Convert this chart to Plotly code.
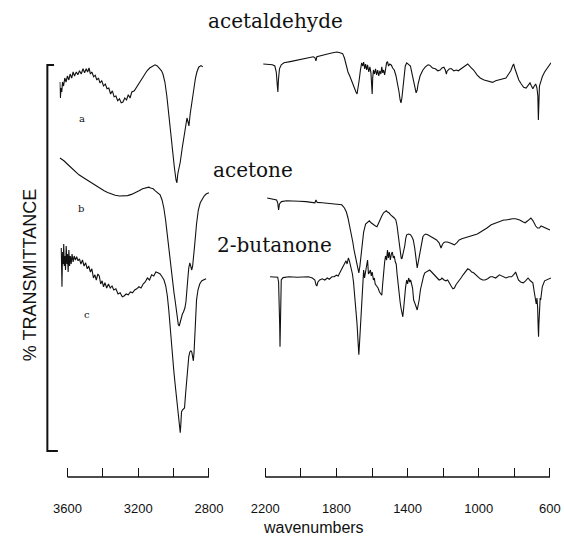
import plotly.graph_objects as go

W, H = 564, 538

# ---------------- spectra: wavenumber (cm-1) and offset transmittance ----------------
# (a) acetaldehyde, C-H stretch region
acetald_ch_wn = [3643, 3640, 3636, 3632, 3628, 3622, 3615, 3608, 3600, 3592, 3585, 3576, 3568, 3560,
                 3550, 3541, 3532, 3522, 3512, 3503, 3494, 3486, 3478, 3470, 3462, 3452, 3443, 3434,
                 3425, 3416, 3406, 3396, 3386, 3376, 3366, 3356, 3346, 3336, 3326, 3316, 3306, 3296,
                 3286, 3276, 3266, 3256, 3246, 3236, 3222, 3208, 3195, 3180, 3165, 3150, 3135, 3120,
                 3105, 3092, 3080, 3068, 3060, 3049, 3038, 3027, 3016, 3005, 2995, 2986, 2981, 2976,
                 2970, 2962, 2951, 2940, 2930, 2924, 2918, 2913, 2906, 2898, 2887, 2876, 2868, 2858,
                 2845, 2835]
acetald_ch_t = [94.5, 90.5, 93.0, 92.0, 94.5, 93.5, 95.5, 94.5, 96.0, 95.0, 96.5, 95.5, 97.0, 96.0,
                97.0, 96.3, 97.3, 96.5, 97.8, 96.8, 97.8, 97.0, 98.0, 96.5, 97.0, 95.8, 96.2, 95.0,
                95.5, 94.3, 94.8, 93.5, 94.0, 92.8, 93.0, 91.5, 92.3, 90.8, 91.0, 89.8, 90.3, 89.3,
                89.5, 90.5, 90.0, 91.3, 90.5, 92.0, 92.3, 93.3, 94.0, 95.0, 96.3, 97.3, 98.0, 98.5,
                98.8, 98.5, 97.8, 97.3, 96.5, 94.5, 91.0, 86.0, 81.0, 77.0, 73.0, 70.0, 69.3, 71.5,
                72.5, 74.5, 78.0, 81.5, 84.5, 85.5, 84.5, 83.5, 86.5, 89.0, 92.5, 95.5, 97.0, 98.2,
                98.6, 98.3]

# (a) acetaldehyde, fingerprint region
acetald_fp_wn = [2211, 2180, 2160, 2146, 2138, 2132, 2129, 2126, 2120, 2110, 2095, 2060, 2030, 2000,
                 1960, 1930, 1921, 1915, 1910, 1880, 1850, 1820, 1797, 1780, 1765, 1755, 1745, 1735,
                 1725, 1717, 1708, 1700, 1690, 1684, 1678, 1672, 1665, 1658, 1652, 1647, 1641, 1636,
                 1630, 1625, 1618, 1612, 1606, 1602, 1599, 1596, 1592, 1586, 1580, 1574, 1568, 1562,
                 1556, 1550, 1545, 1540, 1535, 1529, 1524, 1518, 1513, 1507, 1500, 1491, 1484, 1475,
                 1465, 1455, 1448, 1442, 1437, 1432, 1426, 1420, 1413, 1405, 1395, 1384, 1376, 1368,
                 1360, 1352, 1346, 1341, 1330, 1314, 1300, 1285, 1276, 1260, 1244, 1230, 1217, 1207,
                 1196, 1188, 1182, 1178, 1165, 1153, 1140, 1126, 1115, 1100, 1088, 1075, 1062, 1046,
                 1029, 1010, 992, 970, 954, 940, 922, 905, 884, 865, 847, 832, 820, 810, 804, 798,
                 788, 775, 761, 748, 734, 722, 712, 704, 696, 688, 680, 673, 668, 665, 662, 659, 650,
                 643, 630, 616, 605, 594]
acetald_fp_t = [99.0, 98.9, 98.8, 98.5, 97.0, 93.5, 92.0, 95.0, 97.8, 98.8, 99.3, 99.6, 99.9, 100.2,
                100.5, 100.8, 100.6, 99.8, 100.8, 101.2, 101.5, 101.8, 102.0, 101.8, 101.6, 100.5, 98.5, 97.0,
                96.0, 95.0, 93.8, 93.0, 92.0, 91.5, 93.0, 95.0, 97.5, 99.3, 98.5, 99.5, 97.8, 99.0,
                97.5, 98.8, 97.0, 98.3, 96.8, 94.0, 91.5, 95.5, 97.5, 96.5, 97.8, 96.3, 97.5, 96.0,
                97.3, 96.5, 98.3, 96.8, 97.5, 96.3, 98.5, 99.3, 99.6, 98.5, 99.0, 98.7, 98.0, 97.5,
                96.0, 94.0, 92.0, 90.0, 89.3, 90.5, 93.5, 96.0, 98.5, 99.3, 99.0, 98.5, 96.8, 95.0,
                93.0, 91.8, 92.5, 94.0, 96.0, 97.5, 98.3, 98.8, 98.7, 98.0, 97.8, 97.3, 97.5, 98.0,
                98.2, 97.5, 96.5, 97.2, 97.8, 97.8, 97.3, 97.5, 97.3, 97.8, 98.3, 98.8, 99.0, 98.2,
                97.5, 96.3, 95.5, 95.0, 94.8, 94.6, 94.4, 94.8, 95.0, 95.2, 95.5, 96.5, 97.3, 98.5, 99.0, 98.0,
                96.8, 95.0, 94.0, 93.2, 93.0, 93.8, 94.3, 93.5, 92.8, 93.5, 94.0, 93.0, 91.0, 85.0, 92.0, 93.5, 94.8,
                95.8, 97.0, 98.0, 98.8, 99.3]

# (b) acetone, C-H stretch region
acetone_ch_wn = [3643, 3620, 3589, 3560, 3535, 3500, 3465, 3440, 3416, 3395, 3373, 3350, 3330, 3305,
                 3281, 3260, 3238, 3215, 3195, 3175, 3157, 3140, 3130, 3115, 3103, 3090, 3076, 3065,
                 3055, 3045, 3036, 3027, 3018, 3008, 2998, 2990, 2984, 2978, 2973, 2968, 2963, 2957,
                 2950, 2944, 2936, 2930, 2924, 2919, 2914, 2908, 2903, 2897, 2892, 2887, 2880, 2870,
                 2860, 2849, 2838, 2827, 2816, 2800]
acetone_ch_t = [75.5, 74.8, 73.5, 72.3, 71.3, 70.3, 69.3, 68.6, 68.0, 67.4, 66.9, 66.5, 66.2, 66.0,
                66.0, 66.1, 66.4, 66.8, 67.3, 67.8, 68.1, 68.2, 68.0, 67.8, 67.3, 66.8, 66.3, 65.0,
                63.0, 60.0, 56.5, 52.5, 48.5, 45.0, 42.0, 39.5, 37.0, 35.0, 33.8, 33.5, 34.5, 35.8,
                36.5, 37.0, 38.0, 39.5, 42.0, 45.5, 48.0, 49.3, 48.5, 47.5, 48.5, 50.5, 54.0, 59.0,
                62.5, 64.3, 65.3, 66.0, 66.5, 66.8]

# (b) acetone, fingerprint region
acetone_fp_wn = [2189, 2170, 2150, 2136, 2130, 2125, 2120, 2109, 2080, 2050, 2010, 1970, 1930, 1921,
                 1915, 1908, 1880, 1850, 1835, 1800, 1770, 1755, 1744, 1735, 1725, 1717, 1708, 1701,
                 1690, 1679, 1674, 1668, 1663, 1656, 1647, 1636, 1625, 1615, 1605, 1599, 1590, 1580,
                 1572, 1565, 1556, 1545, 1535, 1529, 1520, 1513, 1505, 1495, 1486, 1475, 1466, 1459,
                 1452, 1446, 1440, 1436, 1432, 1428, 1422, 1416, 1410, 1405, 1395, 1384, 1376, 1368,
                 1360, 1354, 1349, 1346, 1342, 1336, 1330, 1322, 1314, 1306, 1298, 1287, 1276, 1263,
                 1250, 1237, 1223, 1212, 1205, 1198, 1190, 1177, 1164, 1150, 1137, 1124, 1110, 1095,
                 1080, 1062, 1040, 1020, 1008, 990, 970, 954, 930, 900, 880, 860, 847, 830, 810, 793,
                 770, 750, 739, 725, 715, 707, 695, 686, 680, 670, 659, 650, 640, 632, 620, 610, 600]
acetone_fp_t = [65.5, 65.3, 65.1, 65.0, 64.3, 62.5, 64.0, 64.6, 64.8, 64.8, 64.7, 64.6, 64.5, 64.3,
                65.0, 64.4, 64.3, 64.2, 64.2, 64.0, 63.8, 63.0, 62.0, 60.5, 58.5, 57.0, 54.5, 52.5,
                50.0, 48.3, 46.8, 48.5, 50.5, 53.5, 57.0, 59.0, 59.5, 59.8, 59.3, 59.0, 58.8, 58.5,
                58.3, 59.0, 60.0, 61.0, 61.8, 62.0, 62.3, 62.0, 61.8, 61.3, 61.0, 60.5, 60.0, 58.5,
                56.0, 53.5, 51.5, 50.5, 50.3, 51.0, 52.0, 53.5, 55.5, 56.3, 56.5, 56.3, 55.8, 55.0,
                53.0, 50.5, 48.5, 48.0, 49.0, 50.5, 52.0, 54.0, 55.8, 56.3, 56.5, 56.3, 56.0, 55.8,
                55.5, 55.0, 54.3, 53.0, 53.8, 54.3, 54.5, 54.5, 54.3, 54.0, 53.8, 54.3, 55.0, 55.3,
                55.5, 55.8, 56.0, 56.3, 56.5, 57.0, 57.5, 58.0, 58.8, 59.3, 59.8, 60.0, 60.0, 60.2, 60.3, 60.3,
                60.0, 59.5, 59.3, 59.8, 60.2, 60.5, 59.8, 59.0, 58.5, 58.0, 58.0, 58.5, 58.3, 58.3, 58.0, 57.8, 57.5]

# (c) 2-butanone, C-H stretch region
butanone_ch_wn = [3635, 3633, 3631, 3629, 3627, 3624, 3621, 3618, 3614, 3611, 3607, 3603, 3600, 3596,
                  3592, 3588, 3584, 3579, 3574, 3568, 3562, 3555, 3548, 3540, 3532, 3524, 3515, 3506,
                  3497, 3488, 3480, 3470, 3462, 3453, 3445, 3437, 3428, 3420, 3412, 3404, 3396, 3388,
                  3378, 3368, 3358, 3348, 3338, 3326, 3314, 3302, 3290, 3280, 3268, 3256, 3244, 3232,
                  3220, 3208, 3196, 3184, 3172, 3160, 3148, 3136, 3124, 3112, 3100, 3088, 3076, 3065,
                  3054, 3044, 3035, 3027, 3020, 3014, 3006, 2998, 2990, 2982, 2975, 2968, 2962, 2958,
                  2955, 2950, 2944, 2938, 2932, 2926, 2920, 2914, 2908, 2902, 2897, 2892, 2888, 2884,
                  2880, 2876, 2870, 2862, 2852, 2840, 2828, 2816]
butanone_ch_t = [53.0, 47.0, 43.3, 49.0, 52.0, 49.0, 54.0, 48.5, 51.0, 47.5, 53.5, 49.0, 51.5, 47.0,
                 52.5, 48.5, 51.0, 49.0, 51.5, 49.5, 51.0, 50.0, 50.8, 49.8, 50.3, 49.0, 50.0, 48.5,
                 49.3, 47.8, 48.5, 47.0, 47.8, 45.5, 46.3, 45.0, 46.5, 46.0, 44.0, 44.8, 43.3, 44.3,
                 43.0, 44.0, 43.0, 43.5, 42.5, 42.8, 41.5, 41.8, 40.8, 41.0, 41.5, 41.3, 42.0, 41.8,
                 42.5, 42.8, 43.3, 43.0, 44.0, 44.5, 45.5, 45.0, 46.3, 46.0, 47.0, 46.8, 46.5, 45.8,
                 45.0, 43.5, 41.0, 37.5, 33.5, 29.5, 25.5, 22.0, 18.5, 15.0, 12.0, 9.0, 6.8, 9.5,
                 12.0, 12.5, 12.8, 13.0, 16.5, 20.5, 23.5, 25.8, 27.0, 27.3, 27.0, 26.0, 24.8, 27.0,
                 31.0, 36.0, 40.0, 42.5, 44.0, 44.8, 45.0, 45.3]

# (c) 2-butanone, fingerprint region
butanone_fp_wn = [2173, 2150, 2130, 2125, 2122, 2119, 2117, 2115, 2113, 2110, 2100, 2066, 2020, 1980,
                  1958, 1935, 1921, 1915, 1910, 1904, 1894, 1880, 1865, 1851, 1840, 1825, 1813, 1800,
                  1790, 1781, 1770, 1762, 1754, 1746, 1740, 1733, 1727, 1721, 1717, 1710, 1704, 1701,
                  1695, 1689, 1684, 1679, 1676, 1674, 1671, 1667, 1663, 1658, 1654, 1650, 1647, 1642,
                  1636, 1630, 1625, 1620, 1615, 1609, 1604, 1599, 1592, 1587, 1582, 1574, 1566, 1558,
                  1550, 1545, 1540, 1535, 1529, 1524, 1518, 1513, 1508, 1503, 1497, 1491, 1486, 1480,
                  1475, 1469, 1464, 1459, 1454, 1448, 1442, 1437, 1432, 1427, 1422, 1416, 1411, 1405,
                  1400, 1394, 1388, 1383, 1378, 1372, 1366, 1360, 1352, 1346, 1341, 1335, 1328, 1320,
                  1310, 1303, 1295, 1287, 1276, 1265, 1250, 1237, 1223, 1212, 1207, 1195, 1185, 1175,
                  1164, 1153, 1145, 1137, 1128, 1115, 1100, 1088, 1075, 1062, 1050, 1040, 1029, 1010,
                  992, 978, 965, 950, 935, 922, 905, 884, 865, 847, 830, 815, 800, 793, 785, 777, 765,
                  750, 737, 723, 710, 696, 688, 682, 677, 673, 669, 666, 664, 662, 659, 655, 652, 648,
                  643, 630, 616, 605, 594]
butanone_fp_t = [45.8, 45.8, 45.7, 44.5, 41.0, 34.0, 28.3, 33.0, 41.0, 45.0, 45.6, 45.8, 45.7, 45.8,
                 45.8, 45.5, 45.0, 43.8, 43.5, 44.5, 45.0, 45.3, 45.0, 45.5, 45.2, 45.8, 45.8, 46.2,
                 46.0, 46.8, 47.8, 48.5, 49.3, 49.8, 49.0, 50.5, 49.8, 48.5, 48.3, 46.5, 44.5, 43.0,
                 40.0, 37.0, 34.0, 30.0, 27.5, 26.3, 28.5, 32.0, 35.0, 40.0, 44.5, 47.0, 47.5, 45.5,
                 46.8, 48.5, 50.0, 46.5, 46.8, 47.5, 46.0, 47.0, 45.0, 45.5, 44.0, 43.5, 43.0, 42.0,
                 41.5, 41.2, 44.0, 48.0, 49.5, 51.0, 50.0, 52.5, 50.5, 52.0, 50.0, 51.5, 52.0, 50.5,
                 51.0, 49.5, 49.0, 46.5, 44.0, 41.5, 39.5, 38.0, 36.5, 35.8, 38.0, 42.0, 43.3, 45.0,
                 44.0, 45.5, 44.5, 45.0, 44.3, 43.0, 40.0, 39.0, 38.3, 37.5, 38.5, 40.0, 42.5, 44.5,
                 46.0, 46.8, 47.0, 47.2, 47.5, 47.0, 46.3, 45.5, 45.0, 45.2, 45.5, 45.0, 44.8, 45.0,
                 44.0, 43.3, 42.8, 43.0, 43.8, 44.5, 45.5, 46.3, 47.0, 47.8, 47.5, 47.0, 46.8, 46.0,
                 45.3, 45.0, 45.0, 45.3, 45.8, 45.8, 45.5, 46.3, 45.8, 45.5, 45.8, 45.8, 46.5, 47.0, 46.0, 45.0, 44.5,
                 44.3, 44.8, 45.5, 44.8, 44.3, 42.0, 39.5, 39.0, 40.5, 38.0, 33.0, 30.8, 34.0, 39.0, 40.5, 40.0, 42.0,
                 43.3, 44.8, 45.0, 45.3, 45.5]

# ---------------- axis ticks ----------------
ch_tickvals = [3600, 3400, 3200, 3000, 2800]
ch_ticktext = ["3600", "", "3200", "", "2800"]
fp_tickvals = [2200, 2000, 1800, 1600, 1400, 1200, 1000, 800, 600]
fp_ticktext = ["2200", "", "1800", "", "1400", "", "1000", "", "600"]

compound_names = ["acetaldehyde", "acetone", "2-butanone"]
trace_letters = ["a", "b", "c"]


def px(x):
    return x / W


def py(y):
    return 1 - y / H


INK = "#111111"
line_style = dict(color=INK, width=1.1)

fig = go.Figure()
for wn, t in [(acetald_ch_wn, acetald_ch_t), (acetone_ch_wn, acetone_ch_t),
              (butanone_ch_wn, butanone_ch_t)]:
    fig.add_trace(go.Scatter(x=wn, y=t, mode="lines", line=line_style,
                             xaxis="x", yaxis="y", hoverinfo="skip"))
for wn, t in [(acetald_fp_wn, acetald_fp_t), (acetone_fp_wn, acetone_fp_t),
              (butanone_fp_wn, butanone_fp_t)]:
    fig.add_trace(go.Scatter(x=wn, y=t, mode="lines", line=line_style,
                             xaxis="x2", yaxis="y", hoverinfo="skip"))

AXIS_Y = 477  # pixel row of the wavenumber axis
tick_font = dict(family="Liberation Sans, Arial, sans-serif", size=13, color=INK)
common_x = dict(showgrid=False, zeroline=False, showline=False, ticks="inside",
                ticklen=9, tickwidth=1, tickcolor=INK, tickfont=tick_font,
                ticklabelstandoff=22, ticklabeloverflow="allow", anchor="y")

fig.update_layout(
    width=W, height=H,
    margin=dict(l=0, r=0, t=0, b=0),
    paper_bgcolor="white", plot_bgcolor="white",
    showlegend=False,
    xaxis=dict(domain=[px(49.7), px(207.9)], range=[3645, 2790],
               tickvals=ch_tickvals, ticktext=ch_ticktext, **common_x),
    xaxis2=dict(domain=[px(262.2), 1.0], range=[2215, 594],
                tickvals=fp_tickvals, ticktext=fp_ticktext, **common_x),
    yaxis=dict(domain=[py(AXIS_Y), py(40)], range=[-4.25, 105], visible=False),
)

# wavenumber axis baselines (between the end ticks only)
base_y = py(AXIS_Y)
fig.add_shape(type="line", xref="x", yref="paper", x0=3600, x1=2800, y0=base_y, y1=base_y,
              line=dict(color=INK, width=1.3))
fig.add_shape(type="line", xref="x2", yref="paper", x0=2200, x1=600, y0=base_y, y1=base_y,
              line=dict(color=INK, width=1.3))

# transmittance bracket
fig.add_shape(type="path", xref="paper", yref="paper",
              path=f"M {px(44)},{py(65)} L {px(37)},{py(65)} L {px(37)},{py(451)} L {px(48)},{py(451)}",
              line=dict(color=INK, width=2))

serif = "DejaVu Serif, Liberation Serif, serif"
sans = "Liberation Sans, Arial, sans-serif"


def label(text, x, y, font, **kw):
    fig.add_annotation(text=text, x=px(x), y=py(y), xref="paper", yref="paper",
                       xanchor="center", yanchor="middle", showarrow=False, font=font, **kw)


# compound names
for name, (x, y) in zip(compound_names, [(276, 21), (252, 170), (275, 245)]):
    label(name, x, y, dict(family=serif, size=20, color=INK))

# trace letters
for letter, (x, y) in zip(trace_letters, [(73, 118), (72, 208), (78, 314)]):
    label(letter, x, y, dict(family=serif, size=10, color=INK))

label("% TRANSMITTANCE", 19, 275, dict(family=sans, size=18, color=INK), textangle=-90)
label("wavenumbers", 316, 527, dict(family=sans, size=16, color=INK))

fig.write_html("out.html")
